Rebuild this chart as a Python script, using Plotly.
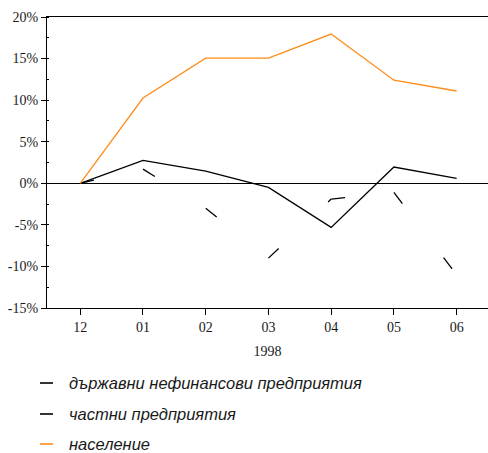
import plotly.graph_objects as go

# Monthly change, % (December 1997 = 0)
months = ["12", "01", "02", "03", "04", "05", "06"]
state_enterprises = [0.0, 1.7, -3.0, -9.0, -1.9, -1.1, -11.0]
private_enterprises = [0.0, 2.75, 1.45, -0.5, -5.3, 1.95, 0.6]
households = [0.0, 10.25, 15.05, 15.05, 17.95, 12.4, 11.1]

series_names = [
    "държавни нефинансови предприятия",
    "частни предприятия",
    "население",
]
series_colors = ["#000000", "#000000", "#ff8c1a"]

y_tickvals = [-15, -10, -5, 0, 5, 10, 15, 20]
y_ticktext = ["-15%", "-10%", "-5%", "0%", "5%", "10%", "15%", "20%"]

W, H = 488, 453
M_L, M_R, M_T, M_B = 47, 0, 17, 145

x_idx = list(range(len(months)))

# The dashed series is drawn segment by segment so that the dash pattern
# starts afresh at every month.
seg_x, seg_y = [], []
for i in range(len(months) - 1):
    seg_x += [x_idx[i], x_idx[i + 1], None]
    seg_y += [state_enterprises[i], state_enterprises[i + 1], None]

fig = go.Figure()
fig.add_trace(go.Scatter(
    x=seg_x, y=seg_y, mode="lines", name=series_names[0],
    line=dict(color=series_colors[0], width=1.3, dash="14px,68px"),
    connectgaps=False, showlegend=False,
))
fig.add_trace(go.Scatter(
    x=x_idx, y=private_enterprises, mode="lines", name=series_names[1],
    line=dict(color=series_colors[1], width=1.3), showlegend=False,
))
fig.add_trace(go.Scatter(
    x=x_idx, y=households, mode="lines", name=series_names[2],
    line=dict(color=series_colors[2], width=1.3), showlegend=False,
))

tick_font = dict(family="Liberation Serif, Times New Roman, serif", size=14, color="#1a1a1a")

fig.update_xaxes(
    range=[-0.53, 6.5], tickmode="array", tickvals=x_idx, ticktext=months,
    showline=True, linecolor="#000", linewidth=1.3, mirror=True,
    ticks="outside", ticklen=6, tickcolor="#000", tickwidth=1.2,
    showgrid=False, zeroline=False, tickfont=tick_font,
    title=dict(text="1998", font=tick_font, standoff=12),
)
fig.update_yaxes(
    range=[-15, 20], tickmode="array", tickvals=y_tickvals, ticktext=y_ticktext,
    showline=True, linecolor="#000", linewidth=1.3,
    ticks="outside", ticklen=5, tickcolor="#000", tickwidth=1,
    minor=dict(tickmode="linear", tick0=0, dtick=2.5, ticks="inside",
               ticklen=2, tickcolor="#000"),
    showgrid=False, zeroline=True, zerolinecolor="#000", zerolinewidth=1.2,
    tickfont=tick_font,
)

# Legend below the chart: a short coloured stroke followed by the italic name
plot_w = W - M_L - M_R
plot_h = H - M_T - M_B


def px_x(p):
    return (p - M_L) / plot_w


def px_y(p):
    return (H - M_B - p) / plot_h


legend_rows = [383, 414, 444]
legend_font = "Liberation Sans, Arial, sans-serif"
for name, color, row in zip(series_names, series_colors, legend_rows):
    fig.add_shape(
        type="line", xref="paper", yref="paper",
        x0=px_x(40), x1=px_x(53), y0=px_y(row), y1=px_y(row),
        line=dict(color=color, width=1.6),
    )
    fig.add_annotation(
        xref="paper", yref="paper", x=px_x(68), y=px_y(row),
        xanchor="left", yanchor="middle", showarrow=False, borderpad=0,
        text=f"<i>{name}</i>",
        font=dict(family=legend_font, size=16.5, color="#1a1a1a"),
    )

fig.update_layout(
    width=W, height=H,
    margin=dict(l=M_L, r=M_R, t=M_T, b=M_B),
    paper_bgcolor="#ffffff", plot_bgcolor="#ffffff",
    showlegend=False,
)

fig.write_html("out.html")
